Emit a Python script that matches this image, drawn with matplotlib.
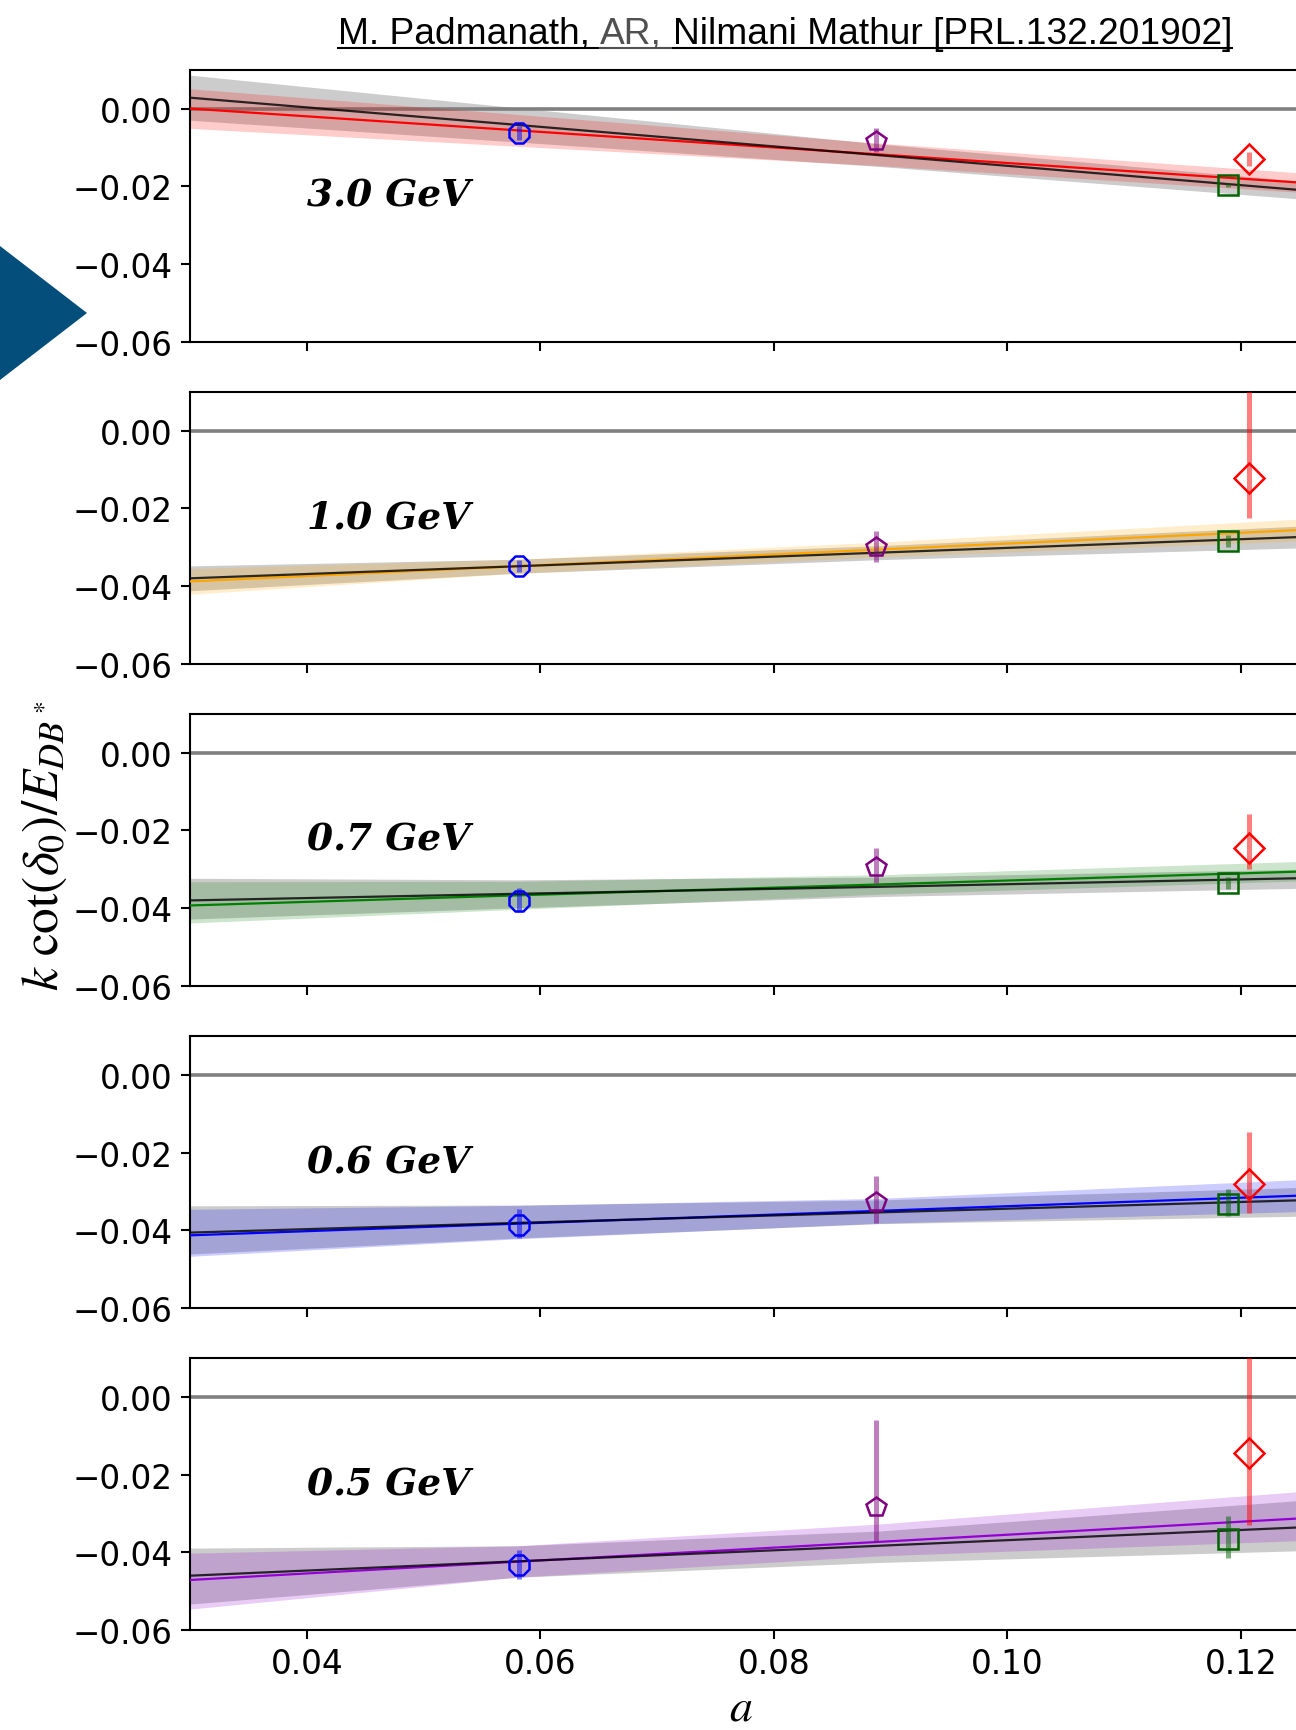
"""
Scattering amplitude k cot(delta_0) vs lattice spacing, five energies.
"""

import matplotlib
matplotlib.use('Agg')
import matplotlib.pyplot as plt
from matplotlib.patches import Polygon
from matplotlib.lines import Line2D

plt.rcParams['mathtext.fontset'] = 'stix'

# panel labels, top to bottom
energies = ['3.0 GeV', '1.0 GeV', '0.7 GeV', '0.6 GeV', '0.5 GeV']
fit_colors = ['red', 'orange', 'green', 'blue', 'darkviolet']

# lattice ensembles
a_pts = [0.0582, 0.0888, 0.1189, 0.1207]
pt_markers = ['8', 'p', 's', 'D']
pt_colors = ['blue', 'purple', 'darkgreen', 'red']

# k cot(delta_0)/E per panel (rows) and ensemble (columns)
kcot = [
    [-0.0063, -0.0083, -0.0197, -0.0130],
    [-0.0349, -0.0300, -0.0284, -0.0123],
    [-0.0382, -0.0295, -0.0335, -0.0246],
    [-0.0387, -0.0327, -0.0333, -0.0281],
    [-0.0433, -0.0282, -0.0366, -0.0143],
]
err_lo = [
    [0.0018, 0.0030, 0.0005, 0.0019],
    [0.0015, 0.0039, 0.0015, 0.0103],
    [0.0029, 0.0039, 0.0015, 0.0054],
    [0.0032, 0.0055, 0.0031, 0.0074],
    [0.0036, 0.0091, 0.0049, 0.0187],
]
err_hi = [
    [0.0018, 0.0032, 0.0005, 0.0018],
    [0.0015, 0.0042, 0.0015, 0.0250],
    [0.0035, 0.0050, 0.0015, 0.0089],
    [0.0041, 0.0067, 0.0039, 0.0135],
    [0.0039, 0.0222, 0.0060, 0.0250],
]

# continuum fits: band edges sampled along a
a_grid = [0.03, 0.058, 0.089, 0.1248]

# fit through all points (black line, gray band)
all_line = [
    [0.0028, -0.0042, -0.0120, -0.0209],
    [-0.0380, -0.0349, -0.0314, -0.0274],
    [-0.0380, -0.0363, -0.0345, -0.0323],
    [-0.0406, -0.0381, -0.0354, -0.0323],
    [-0.0460, -0.0423, -0.0383, -0.0336],
]
all_lo = [
    [-0.0030, -0.0086, -0.0149, -0.0232],
    [-0.0412, -0.0367, -0.0332, -0.0302],
    [-0.0428, -0.0399, -0.0370, -0.0349],
    [-0.0461, -0.0420, -0.0383, -0.0364],
    [-0.0533, -0.0464, -0.0426, -0.0396],
]
all_hi = [
    [0.0086, 0.0002, -0.0091, -0.0186],
    [-0.0348, -0.0331, -0.0296, -0.0246],
    [-0.0323, -0.0327, -0.0320, -0.0300],
    [-0.0337, -0.0335, -0.0322, -0.0290],
    [-0.0389, -0.0383, -0.0345, -0.0267],
]

# fit per energy (coloured line and band)
sub_line = [
    [0.0000, -0.0056, -0.0118, -0.0190],
    [-0.0388, -0.0349, -0.0306, -0.0256],
    [-0.0393, -0.0367, -0.0339, -0.0306],
    [-0.0413, -0.0383, -0.0350, -0.0311],
    [-0.0471, -0.0424, -0.0373, -0.0313],
]
sub_lo = [
    [-0.0051, -0.0097, -0.0147, -0.0215],
    [-0.0421, -0.0367, -0.0325, -0.0284],
    [-0.0438, -0.0403, -0.0364, -0.0330],
    [-0.0467, -0.0422, -0.0382, -0.0352],
    [-0.0546, -0.0464, -0.0409, -0.0370],
]
sub_hi = [
    [0.0051, -0.0015, -0.0089, -0.0165],
    [-0.0355, -0.0331, -0.0287, -0.0228],
    [-0.0332, -0.0331, -0.0314, -0.0280],
    [-0.0346, -0.0336, -0.0318, -0.0270],
    [-0.0402, -0.0383, -0.0327, -0.0244],
]

W, H = 1296, 1731


def px_rect(left, top, width, height):
    return [left / W, 1 - (top + height) / H, width / W, height / H]


def main():
    fig = plt.figure(figsize=(W / 100, H / 100), dpi=100)

    # slide marker on the left edge
    tri = [(0, 247), (87, 314), (0, 381)]
    fig.patches.append(Polygon([(x / W, 1 - y / H) for x, y in tri], closed=True,
                               transform=fig.transFigure, color='#034e7b', lw=0))

    for i in range(5):
        ax = fig.add_axes(px_rect(190, 70.7 + 322.1 * i, W - 190, 272))

        ax.axhline(0, color='gray', lw=2.6, zorder=1)

        ax.fill_between(a_grid, all_lo[i], all_hi[i], color='gray', alpha=0.4, lw=0, zorder=2)
        ax.fill_between(a_grid, sub_lo[i], sub_hi[i], color=fit_colors[i], alpha=0.2, lw=0, zorder=2)
        ax.plot(a_grid, sub_line[i], color=fit_colors[i], lw=1.6, zorder=3)
        ax.plot(a_grid, all_line[i], color='k', lw=1.6, alpha=0.8, zorder=3)

        for j in range(4):
            ax.errorbar(a_pts[j], kcot[i][j], yerr=[[err_lo[i][j]], [err_hi[i][j]]],
                        fmt='none', ecolor=pt_colors[j], elinewidth=3.6, alpha=0.5,
                        capsize=0, zorder=4)
            ax.plot(a_pts[j], kcot[i][j], marker=pt_markers[j], ms=15, mfc='none',
                    mec=pt_colors[j], mew=1.8, ls='none', zorder=5)

        ax.text(0.04, -0.0223, energies[i], fontsize=27, family='DejaVu Serif',
                weight='bold', style='italic', ha='left', va='center')

        ax.set_xlim(0.03, 0.03 + (W - 190) / 11675)
        ax.set_ylim(-0.06, 0.01)
        ax.set_yticks([-0.06, -0.04, -0.02, 0.0])
        ax.set_xticks([0.04, 0.06, 0.08, 0.10, 0.12])
        ax.tick_params(direction='out', length=6.5, width=1.5, labelsize=23.5, pad=6)
        if i < 4:
            ax.tick_params(labelbottom=False)
        ax.spines['right'].set_visible(False)
        for s in ('left', 'top', 'bottom'):
            ax.spines[s].set_linewidth(1.5)

    fig.text(44 / W, 1 - 846 / H, r'$k\ \cot(\delta_0)/E_{DB^*}$', rotation=90,
             ha='center', va='center', fontsize=37)
    fig.text(741 / W, 1 - 1721 / H, r'$a$', ha='center', va='baseline', fontsize=33)

    # underlined credit line, middle name in grey
    fig.canvas.draw()
    r = fig.canvas.get_renderer()
    font = dict(family='Liberation Sans', fontsize=26.7)
    base = 1 - 44 / H
    sp = (fig.text(0, 0, 'a a', **font).get_window_extent(r).width
          - fig.text(0, 0, 'aa', **font).get_window_extent(r).width)
    for t in fig.texts[-2:]:
        t.remove()
    x = 338
    pieces = [('M. Padmanath,', 'black'), ('AR,', '#505050'),
              ('Nilmani Mathur [PRL.132.201902]', 'black')]
    spans = []
    for k, (s, c) in enumerate(pieces):
        t = fig.text(x / W, base, s, color=c, va='baseline', ha='left', **font)
        w = t.get_window_extent(r).width
        x1 = x + w + (sp if k < 2 else 0)
        spans.append((x, x1, c))
        x = x + w + sp
    uy = 1 - 49 / H
    for x0, x1, c in spans:
        fig.add_artist(Line2D([x0 / W, x1 / W], [uy, uy], color=c, lw=1.5,
                              transform=fig.transFigure))

    fig.savefig('out.png', dpi=100)


if __name__ == '__main__':
    main()
